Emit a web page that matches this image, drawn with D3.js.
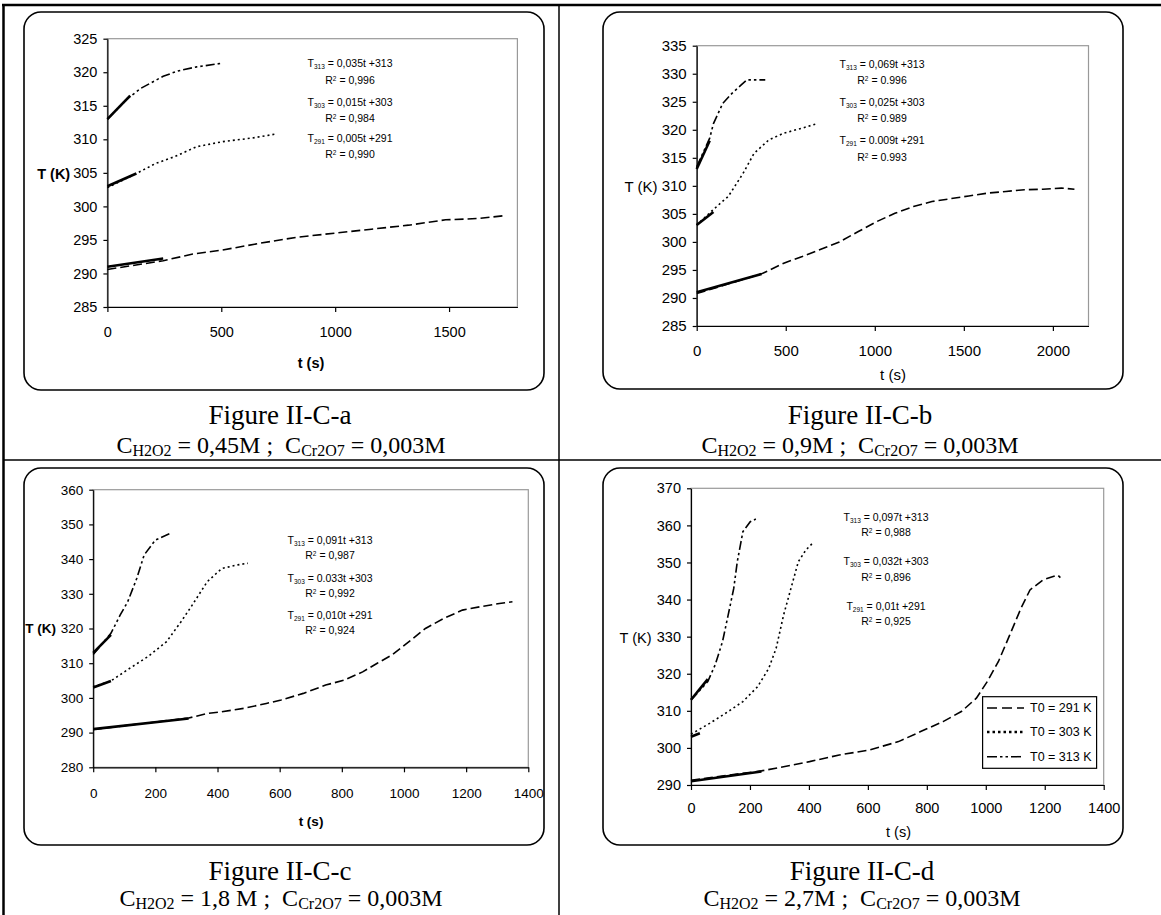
<!DOCTYPE html>
<html><head><meta charset="utf-8">
<script src="https://cdn.jsdelivr.net/npm/d3@7"></script>
<style>body{margin:0;background:#fff}svg{display:block}</style>
</head><body>
<svg id="chart" width="1161" height="915"></svg>
<script>
// ---------------- DATA ----------------
const captions = ["Figure II-C-a", "Figure II-C-b", "Figure II-C-c", "Figure II-C-d"];
const concH2O2 = ["0,45M", "0,9M", "1,8 M", "2,7M"];
const concCr2O7 = ["0,003M", "0,003M", "0,003M", "0,003M"];
const xDomains = [[0, 1800], [0, 2200], [0, 1400], [0, 1400]];
const yDomains = [[285, 325], [285, 335], [280, 360], [290, 370]];
const xTicks = [[0, 500, 1000, 1500], [0, 500, 1000, 1500, 2000],
  [0, 200, 400, 600, 800, 1000, 1200, 1400], [0, 200, 400, 600, 800, 1000, 1200, 1400]];
const yTicks = [[285, 290, 295, 300, 305, 310, 315, 320, 325],
  [285, 290, 295, 300, 305, 310, 315, 320, 325, 330, 335],
  [280, 290, 300, 310, 320, 330, 340, 350, 360],
  [290, 300, 310, 320, 330, 340, 350, 360, 370]];
const xTitle = "t (s)";
const yTitle = "T (K)";

// measured series [t (s), T (K)]
const a313 = [[0, 313], [90, 316.1], [147, 317.6], [245, 319.4], [310, 320.2], [392, 320.8], [496, 321.3]];
const a303 = [[0, 302.8], [127, 304.9], [212, 306.4], [294, 307.4], [392, 308.9], [506, 309.65], [637, 310.2], [734, 310.75]];
const a291 = [[0, 290.6], [245, 291.9], [375, 292.9], [506, 293.5], [669, 294.5], [832, 295.4], [996, 296.0], [1159, 296.6], [1322, 297.2], [1485, 298.0], [1632, 298.2], [1738, 298.6]];

const b313 = [[0, 313.4], [73, 318.5], [94, 321.1], [146, 324.7], [198, 326.5], [250, 328.0], [281, 328.9], [385, 328.9]];
const b303 = [[0, 303.0], [94, 305.8], [177, 308.1], [260, 312.2], [322, 315.8], [405, 318.2], [489, 319.4], [593, 320.3], [676, 321.1]];
const b291 = [[0, 290.8], [364, 294.3], [489, 296.2], [593, 297.4], [697, 298.7], [801, 300.0], [905, 301.8], [1009, 303.6], [1113, 305.1], [1217, 306.3], [1321, 307.2], [1424, 307.7], [1528, 308.2], [1632, 308.7], [1736, 309.0], [1840, 309.3], [1944, 309.4], [2048, 309.6], [2121, 309.4]];

const c313 = [[0, 312.5], [57, 318.6], [87, 323.9], [111, 327.7], [140, 334.4], [164, 341.2], [200, 345.5], [248, 347.4]];
const c303 = [[0, 303.2], [57, 304.9], [117, 308.5], [176, 311.9], [236, 316.2], [283, 322.0], [319, 326.8], [367, 333.5], [414, 337.3], [462, 338.3], [498, 338.8]];
const c291 = [[0, 290.9], [307, 294.2], [367, 295.5], [414, 296.0], [486, 297.0], [557, 298.4], [605, 299.4], [676, 301.3], [748, 303.7], [807, 305.1], [867, 307.5], [914, 310.0], [962, 312.4], [1009, 315.7], [1069, 320.0], [1128, 322.9], [1188, 325.3], [1247, 326.3], [1307, 327.2], [1349, 327.7]];

const d313 = [[0, 312.9], [57, 317.9], [82, 322.4], [107, 328.7], [126, 335.8], [145, 343.0], [157, 350.2], [176, 358.3], [201, 361.0], [220, 361.7]];
const d303 = [[0, 303.7], [63, 306.6], [126, 309.8], [176, 312.5], [226, 316.5], [264, 321.5], [289, 326.9], [314, 335.8], [339, 343.0], [364, 350.2], [390, 353.4], [415, 355.4]];
const d291 = [[0, 291.3], [239, 293.8], [314, 294.9], [402, 296.3], [503, 298.1], [603, 299.4], [704, 301.7], [779, 304.4], [855, 307.1], [917, 309.8], [968, 313.4], [1005, 317.9], [1043, 323.3], [1081, 330.4], [1119, 337.6], [1150, 342.6], [1194, 345.3], [1244, 346.6], [1253, 345.9]];

// linear fits T = slope*t + T0 over the initial part (order: 313, 303, 291)
const fitT0 = [313, 303, 291];
const fitSlopes = [[0.035, 0.015, 0.005], [0.069, 0.025, 0.009], [0.091, 0.033, 0.010], [0.097, 0.032, 0.011]];
const fitEnds = [[100, 127, 245], [73, 94, 364], [57, 57, 307], [57, 30, 239]];
// equation labels as printed
const eqSlopeText = [["0,035t", "0,015t", "0,005t"], ["0,069t", "0,025t", "0.009t"],
  ["0,091t", "0.033t", "0,010t"], ["0,097t", "0,032t", "0,01t"]];
const eqR2Text = [["0,996", "0,984", "0,990"], ["0.996", "0.989", "0.993"],
  ["0,987", "0,992", "0,924"], ["0,988", "0,896", "0,925"]];
const legendT0 = [291, 303, 313];

const seriesByPanel = [[a313, a303, a291], [b313, b303, b291], [c313, c303, c291], [d313, d303, d291]];

// ---------------- LAYOUT ----------------
const layout = [
  { box: [24, 12, 544, 390], plot: [107.4, 38.7, 517.4, 307], tf: 14.5, bold: true,
    yT: [53.7, 174.3], xT: [311, 362.7], xLY: 332, cap: [280, 415], sub: [281, 446],
    eqX: 350, eqY: [63, 80, 102, 118, 138, 154] },
  { box: [603, 12, 1123, 389], plot: [696.7, 45.7, 1088.5, 326], tf: 15, bold: false,
    yT: [641, 186.7], xT: [893, 375], xLY: 350.7, cap: [860, 415], sub: [860, 446],
    eqX: 882, eqY: [64, 80, 102, 118, 140, 157] },
  { box: [24, 468, 544, 845], plot: [93.2, 489.7, 528.3, 767.3], tf: 13.5, bold: true,
    yT: [40.7, 628.3], xT: [311, 821.7], xLY: 793, cap: [280, 871], sub: [281, 899],
    eqX: 330, eqY: [540, 555, 578, 593, 615.7, 630.7] },
  { box: [603, 468, 1123, 845], plot: [691, 488.3, 1103.7, 785], tf: 14.5, bold: false,
    yT: [635.5, 638.3], xT: [898.5, 831.7], xLY: 808, cap: [862, 871], sub: [862, 899],
    eqX: 886, eqY: [517.7, 532.7, 561.7, 577.7, 606.7, 621] }
];
const dashes = ["9,3,2.5,3,2.5,3", "2,3", "9,4"]; // 313, 303, 291
const legendDash = { 291: "10,5", 303: "2.5,3", 313: "10,3,2.5,3,2.5,3" };
const SANS = "'Liberation Sans', Arial, sans-serif";
const SERIF = "'Liberation Serif', 'Times New Roman', serif";

const svg = d3.select("#chart");
svg.append("rect").attr("width", 1161).attr("height", 915).attr("fill", "#fff");

// table borders
const tbl = svg.append("g").attr("stroke", "#000").attr("fill", "none");
tbl.append("line").attr("x1", 2).attr("x2", 1161).attr("y1", 5).attr("y2", 5).attr("stroke-width", 2.5);
tbl.append("line").attr("x1", 3.5).attr("x2", 3.5).attr("y1", 4).attr("y2", 915).attr("stroke-width", 2.5);
tbl.append("line").attr("x1", 559).attr("x2", 559).attr("y1", 5).attr("y2", 915).attr("stroke-width", 1.5);
tbl.append("line").attr("x1", 3).attr("x2", 1161).attr("y1", 460).attr("y2", 460).attr("stroke-width", 1.5);

layout.forEach((L, i) => {
  const g = svg.append("g");
  const [bx0, by0, bx1, by1] = L.box;
  g.append("rect").attr("x", bx0).attr("y", by0).attr("width", bx1 - bx0).attr("height", by1 - by0)
    .attr("rx", 17).attr("ry", 17).attr("fill", "#fff").attr("stroke", "#000").attr("stroke-width", 1.6);

  const [px0, py0, px1, py1] = L.plot;
  const x = d3.scaleLinear().domain(xDomains[i]).range([px0, px1]);
  const y = d3.scaleLinear().domain(yDomains[i]).range([py1, py0]);

  g.append("rect").attr("x", px0).attr("y", py0).attr("width", px1 - px0).attr("height", py1 - py0)
    .attr("fill", "none").attr("stroke", "#999").attr("stroke-width", 1.2);

  const ax = g.append("g").attr("transform", `translate(0,${py1})`)
    .call(d3.axisBottom(x).tickValues(xTicks[i]).tickSize(5).tickSizeOuter(0).tickFormat(d3.format("d")));
  ax.selectAll("text").attr("y", L.xLY - py1).attr("dy", "0.35em");
  const ay = g.append("g").attr("transform", `translate(${px0},0)`)
    .call(d3.axisLeft(y).tickValues(yTicks[i]).tickSize(4).tickSizeOuter(0).tickPadding(6).tickFormat(d3.format("d")));
  [ax, ay].forEach(a => {
    a.selectAll("path,line").attr("stroke", "#000").attr("stroke-width", 1.2);
    a.selectAll("text").attr("font-family", SANS).attr("font-size", L.tf).attr("fill", "#000");
  });

  g.append("text").attr("x", L.yT[0]).attr("y", L.yT[1]).attr("dy", "0.35em").attr("text-anchor", "middle")
    .attr("font-family", SANS).attr("font-size", L.tf).attr("font-weight", L.bold ? "bold" : "normal").text(yTitle);
  g.append("text").attr("x", L.xT[0]).attr("y", L.xT[1]).attr("dy", "0.35em").attr("text-anchor", "middle")
    .attr("font-family", SANS).attr("font-size", L.tf).attr("font-weight", L.bold ? "bold" : "normal").text(xTitle);

  const line = d3.line().x(d => x(d[0])).y(d => y(d[1]));
  seriesByPanel[i].forEach((s, k) => {
    g.append("path").datum(s).attr("d", line).attr("fill", "none").attr("stroke", "#000")
      .attr("stroke-width", 1.6).attr("stroke-dasharray", dashes[k]);
  });
  fitT0.forEach((t0, k) => {
    const sl = fitSlopes[i][k], te = fitEnds[i][k];
    const pts = [[0, t0], [te, t0 + sl * te]];
    g.append("path").datum(pts).attr("d", line).attr("fill", "none").attr("stroke", "#000")
      .attr("stroke-width", 2.6);
  });

  const ann = g.append("g").attr("font-family", SANS).attr("font-size", 10.5).attr("fill", "#000");
  fitT0.forEach((t0, k) => {
    const t1 = ann.append("text").attr("x", L.eqX).attr("y", L.eqY[2 * k]).attr("dy", "0.35em").attr("text-anchor", "middle");
    t1.append("tspan").text("T");
    t1.append("tspan").attr("font-size", 6.5).attr("dy", 2).text(String(t0));
    t1.append("tspan").attr("dy", -2).text(" = " + eqSlopeText[i][k] + " +" + t0);
    const t2 = ann.append("text").attr("x", L.eqX).attr("y", L.eqY[2 * k + 1]).attr("dy", "0.35em").attr("text-anchor", "middle");
    t2.append("tspan").text("R");
    t2.append("tspan").attr("font-size", 6.5).attr("dy", -3).text("2");
    t2.append("tspan").attr("dy", 3).text(" = " + eqR2Text[i][k]);
  });

  g.append("text").attr("x", L.cap[0]).attr("y", L.cap[1]).attr("dy", "0.35em").attr("text-anchor", "middle")
    .attr("font-family", SERIF).attr("font-size", 27).text(captions[i]);
  const st = g.append("text").attr("x", L.sub[0]).attr("y", L.sub[1]).attr("dy", "0.3em").attr("text-anchor", "middle")
    .attr("font-family", SERIF).attr("font-size", 24).style("white-space", "pre");
  st.append("tspan").text("C");
  st.append("tspan").attr("font-size", 16).attr("dy", 3).text("H2O2");
  st.append("tspan").attr("dy", -3).text(" = " + concH2O2[i] + " ;  C");
  st.append("tspan").attr("font-size", 16).attr("dy", 3).text("Cr2O7");
  st.append("tspan").attr("dy", -3).text(" = " + concCr2O7[i]);

  if (i === 3) {
    const lg = g.append("g");
    lg.append("rect").attr("x", 982.6).attr("y", 696.7).attr("width", 114).attr("height", 71.6)
      .attr("fill", "#fff").attr("stroke", "#000").attr("stroke-width", 1.2);
    const ly = [708, 732, 756.7];
    legendT0.forEach((t0, j) => {
      lg.append("line").attr("x1", 987).attr("x2", 1024).attr("y1", ly[j]).attr("y2", ly[j])
        .attr("stroke", "#000").attr("stroke-width", t0 === 303 ? 2.5 : 1.5)
        .attr("stroke-dasharray", legendDash[t0]);
      lg.append("text").attr("x", 1030).attr("y", ly[j]).attr("dy", "0.35em")
        .attr("font-family", SANS).attr("font-size", 12.5).text("T0 = " + t0 + " K");
    });
  }
});
</script>
</body></html>
